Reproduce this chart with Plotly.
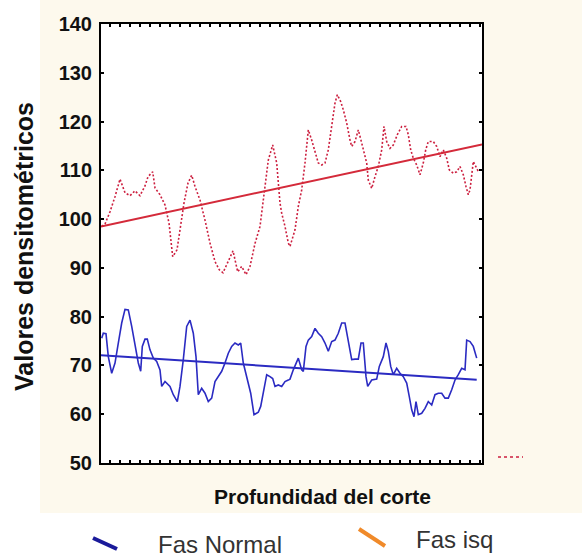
import plotly.graph_objects as go

# ---------------- data ----------------
# depth along the section (arbitrary units, 0..381)
isq_x = [0.7, 4, 9, 14, 19, 24, 29, 34, 39, 44, 47, 51.7, 54, 59, 64, 68, 71.7, 76, 79, 83,
         87, 90.7, 94, 99, 104, 109, 114, 118.3, 122, 127, 132, 136.7, 140.7, 145, 149, 154,
         159, 162.3, 167.3, 171.7, 175.7, 179, 180.7, 184, 187.3, 189, 194, 197.3, 200.7, 204,
         207.3, 210.7, 214, 217.3, 220.7, 224, 227.3, 230.7, 234, 236.3, 239.7, 242.3, 245.7,
         249, 250.7, 254, 257.3, 260.7, 263, 265.7, 267.3, 270.7, 274, 277.3, 280.7, 283,
         285.7, 289, 292.3, 296.3, 300.7, 305, 307.3, 309.7, 312.3, 315.7, 319, 322.3, 324.7,
         327.3, 332.3, 335.7, 339, 342.3, 345.7, 348.3, 352.3, 355.7, 359, 362.3, 365, 367.3,
         369, 370.7, 372.3, 375.7, 378]
isq_y = [98.5, 99, 101.5, 104.6, 108.2, 105.4, 104.8, 105.8, 104.8, 106.8, 108.7, 109.7, 106.4,
         105, 102.9, 99.2, 92.3, 93.7, 97.8, 103.3, 107.4, 109, 106.7, 103.9, 99.8, 95.1, 91.3,
         89.6, 89, 91.3, 93.5, 89.2, 90.3, 88.6, 90.3, 95, 98.5, 103.9, 112.1, 115.2, 111.5,
         103.3, 101.2, 98.5, 95.1, 94.4, 97.8, 102.6, 106, 111.5, 118.3, 116.2, 113.8, 111.5,
         111.1, 111.5, 114.2, 119, 123.8, 125.5, 124.1, 122.4, 119.7, 116.2, 114.9, 115.9,
         118.3, 115.6, 113.5, 111.5, 108, 106.3, 108.7, 110.8, 114.2, 119, 115.9, 114.5, 115.2,
         117.3, 119, 119, 117.3, 114.2, 112.5, 111.1, 109.1, 111.5, 114.2, 115.9, 115.9, 114.9,
         112.8, 114.2, 112.5, 110.1, 109.4, 109.7, 110.8, 109.1, 106.7, 105, 106, 108.7, 111.8,
         110.4, 109.5]

normal_x = [0.7, 2.3, 5, 7.3, 10.7, 14, 17.3, 20.7, 24, 27.3, 30.7, 34, 37.3, 39.7, 41.3, 44,
            46.3, 49, 52.3, 55.7, 59, 60.7, 64, 69, 72.3, 76.3, 79, 82.3, 85.7, 89, 92.3, 95,
            97.3, 100.7, 104, 107.3, 110.7, 114, 117.3, 120.7, 124, 127.3, 130.7, 134, 137.3,
            139.7, 142.3, 145.7, 149.7, 153, 157.3, 159.7, 162.3, 165.7, 169, 171.7, 174, 177.3,
            180.7, 184, 187.3, 189, 192.3, 195.7, 197.3, 200.7, 202.3, 205, 207.3, 210.7, 214,
            217.3, 220.7, 224, 227.3, 230.7, 234, 237.3, 240.7, 244, 247.3, 250.7, 254, 257.3,
            260, 262.3, 265, 266.7, 270.7, 275.7, 278.3, 282.3, 285, 287.3, 289.7, 292.3, 295.7,
            299, 302.3, 305.7, 308.3, 310.7, 313, 315, 317.3, 320.7, 324, 327.3, 330.7, 334,
            337.3, 340.7, 344, 347.3, 350.7, 354, 357.3, 360.7, 364, 365.7, 369, 372.3, 375.7]
normal_y = [75.6, 76.6, 76.5, 71.8, 68.4, 70.5, 74.6, 78.7, 81.5, 81.4, 78, 73.9, 70.5, 68.8,
            73.9, 75.4, 75.4, 73.2, 71.5, 70.8, 69.1, 65.7, 66.7, 65.7, 64, 62.6, 65.7, 71.2, 78,
            79.3, 76.6, 71.8, 64, 65.3, 64.3, 62.6, 63.3, 66.7, 67.7, 68.8, 70.5, 72.5, 73.9,
            74.6, 74.2, 74.6, 70.5, 67.7, 64.3, 59.9, 60.4, 61.6, 64.3, 68.1, 67.7, 67.3, 65.7,
            66, 65.7, 66.7, 67, 67.2, 69.1, 70.8, 71.5, 69.1, 68.8, 73.9, 75.2, 75.9, 77.6, 76.6,
            75.9, 74.6, 72.9, 74.9, 75.2, 76.6, 78.7, 78.7, 75.2, 71.2, 71.3, 71.3, 74.6, 74.6,
            67.7, 65.7, 67, 67.2, 69.8, 71.8, 74.6, 72.9, 69.8, 68.1, 69.4, 68.4, 67.7, 66.4,
            63.6, 60.9, 59.5, 62.6, 59.9, 60.2, 61.2, 62.6, 61.9, 64, 64.3, 64.3, 63.3, 63.3, 65,
            67, 68.1, 69.4, 69.1, 75.2, 74.9, 73.9, 71.5]

# linear trend lines (end points)
isq_trend_x = [0, 381]
isq_trend_y = [98.5, 115.3]
normal_trend_x = [0, 375.7]
normal_trend_y = [72.1, 67.05]

y_range = [50, 140]
y_ticks = [50, 60, 70, 80, 90, 100, 110, 120, 130, 140]

y_title = "Valores densitométricos"
x_title = "Profundidad del corte"
legend_names = ["Fas Normal", "Fas isq"]

# ---------------- layout geometry ----------------
W, H = 582, 560
L, R, T, B = 101, 100, 24, 97
PW = W - L - R
PH = H - T - B


def fx(px):
    return (px - L) / PW


def fy(py):
    return (H - B - py) / PH


BLUE = "#2B2BC2"
RED = "#CC1F3F"
CREAM = "#FDF9ED"

fig = go.Figure()
fig.add_trace(go.Scatter(x=isq_x, y=isq_y, mode="lines",
                         line=dict(color=RED, width=1.6, dash="2px,2px")))
fig.add_trace(go.Scatter(x=isq_trend_x, y=isq_trend_y, mode="lines",
                         line=dict(color="#D42A3A", width=2)))
fig.add_trace(go.Scatter(x=normal_x, y=normal_y, mode="lines",
                         line=dict(color=BLUE, width=1.6)))
fig.add_trace(go.Scatter(x=normal_trend_x, y=normal_trend_y, mode="lines",
                         line=dict(color=BLUE, width=2)))

shapes = [
    # white strips outside the cream panel
    dict(type="rect", xref="paper", yref="paper", x0=fx(-5), x1=fx(40), y0=fy(H + 5), y1=fy(-5),
         fillcolor="white", line=dict(width=0), layer="below"),
    dict(type="rect", xref="paper", yref="paper", x0=fx(-5), x1=fx(W + 5), y0=fy(H + 5), y1=fy(513),
         fillcolor="white", line=dict(width=0), layer="below"),
    # fragment of legend outside the plot
    dict(type="line", xref="paper", yref="paper", x0=fx(498), x1=fx(523), y0=fy(457), y1=fy(457),
         line=dict(color=RED, width=1.5, dash="3px,3px")),
    # legend symbols
    dict(type="line", xref="paper", yref="paper", x0=fx(93), x1=fx(117), y0=fy(538), y1=fy(549),
         line=dict(color="#1A1A9A", width=4)),
    dict(type="line", xref="paper", yref="paper", x0=fx(359), x1=fx(385), y0=fy(529), y1=fy(546),
         line=dict(color="#F08A2A", width=4)),
]

annotations = [
    dict(text=y_title, xref="paper", yref="paper", x=fx(24), y=fy(247), textangle=-90,
         showarrow=False, xanchor="center", yanchor="middle",
         font=dict(family="Liberation Sans", size=25, weight="bold", color="#111111")),
    dict(text=x_title, xref="paper", yref="paper", x=fx(322), y=fy(497),
         showarrow=False, xanchor="center", yanchor="middle",
         font=dict(family="Liberation Sans", size=21, weight="bold", color="#111111")),
    dict(text=legend_names[0], xref="paper", yref="paper", x=fx(220), y=fy(559.5),
         showarrow=False, xanchor="center", yanchor="bottom",
         font=dict(family="Liberation Sans", size=24, color="#333333")),
    dict(text=legend_names[1], xref="paper", yref="paper", x=fx(454), y=fy(539),
         showarrow=False, xanchor="center", yanchor="middle",
         font=dict(family="Liberation Sans", size=24, color="#333333")),
]

axis_common = dict(showline=True, linecolor="black", linewidth=2, mirror="ticks",
                   ticks="inside", tickcolor="black", tickwidth=1.5, ticklen=3,
                   showgrid=False, zeroline=False)

fig.update_layout(
    width=W, height=H,
    margin=dict(l=L, r=R, t=T, b=B, pad=0),
    paper_bgcolor=CREAM, plot_bgcolor="white",
    showlegend=False,
    shapes=shapes, annotations=annotations,
    xaxis=dict(range=[0, 381], tick0=9, dtick=10, showticklabels=False, **axis_common),
    yaxis=dict(range=y_range, tickmode="array", tickvals=y_ticks,
               ticktext=[str(v) for v in y_ticks], ticklabelstandoff=3,
               tickfont=dict(family="Liberation Sans", size=20, weight="bold", color="#111111"),
               **axis_common),
)

fig.write_html("out.html", config={"displayModeBar": False},
               post_script="document.body.style.margin='0';document.body.style.overflow='hidden';")
